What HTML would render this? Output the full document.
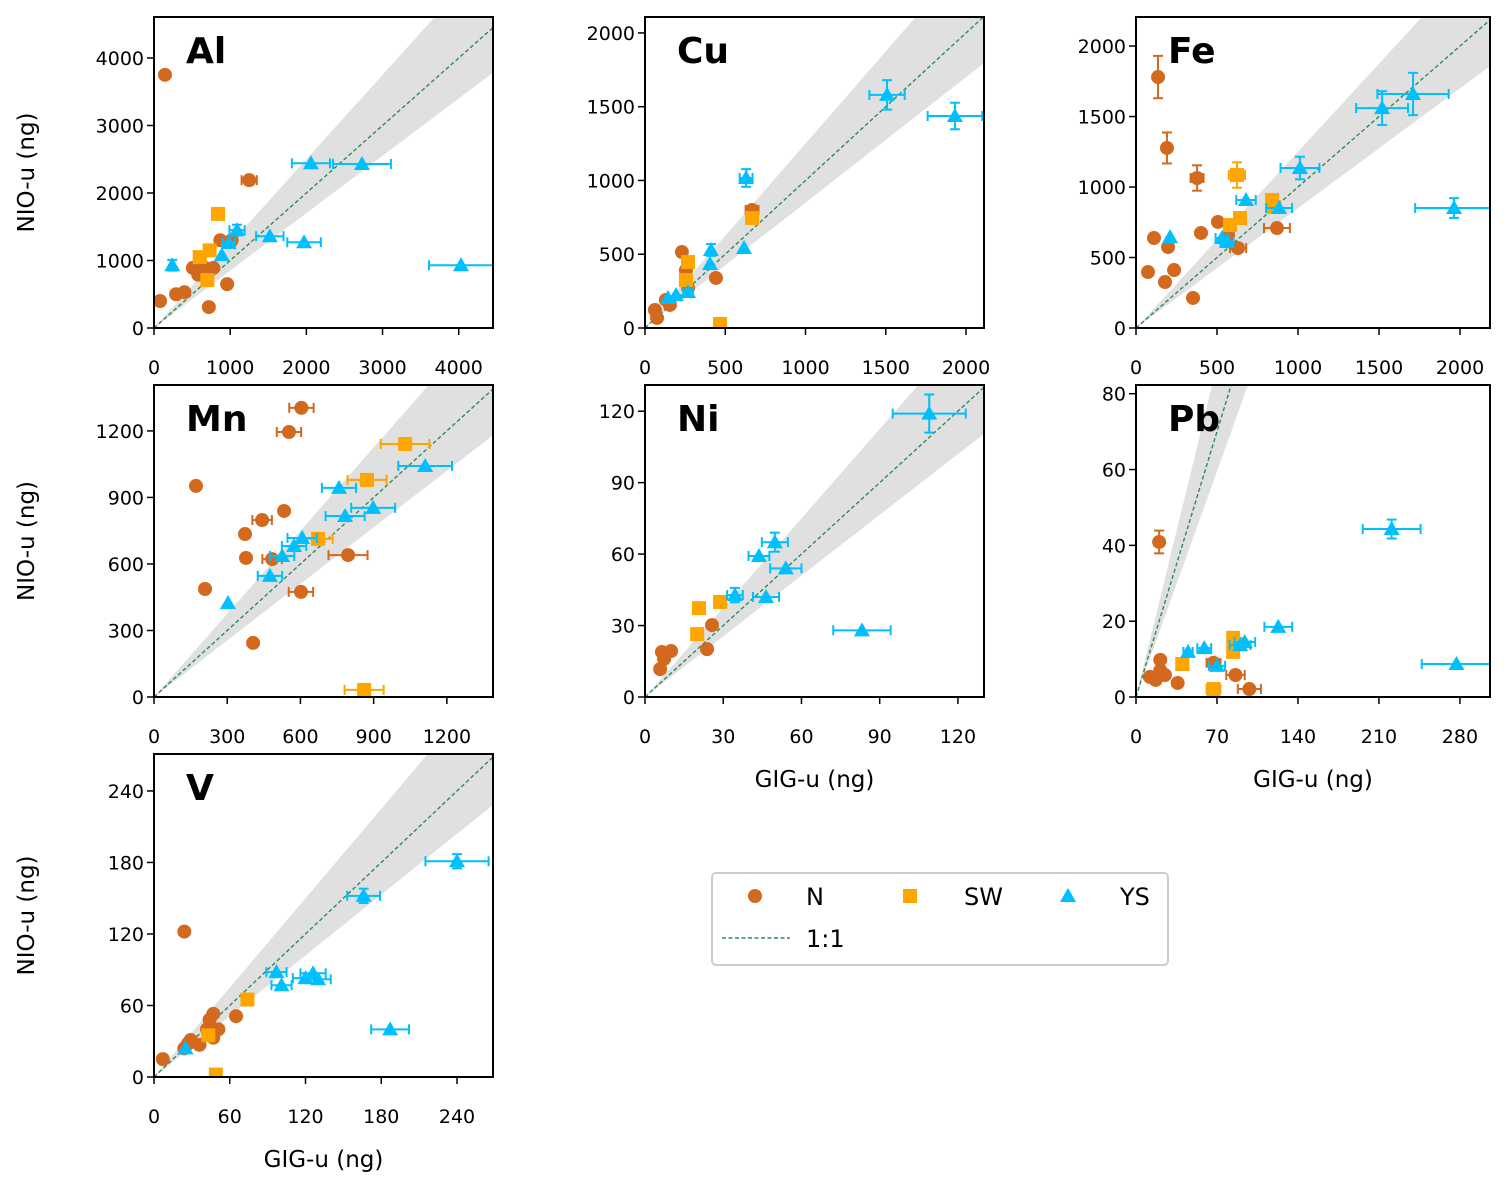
<!DOCTYPE html>
<html><head><meta charset="utf-8"><style>
body{margin:0;background:#fff}
svg text{font-family:"DejaVu Sans","Liberation Sans",sans-serif}
</style></head><body>
<svg id="c" width="1508" height="1190" xmlns="http://www.w3.org/2000/svg"></svg>
<script>
// data: [x, y, xerr, yerr]
const alN=[[144,3750,0,0],[79,400,0,0],[290,500,0,0],[400,530,0,0],[510,890,0,0],[580,790,0,0],[720,310,0,0],[780,890,0,0],[870,1300,0,0],[960,650,0,0],[1250,2190,100,0],[1020,1300,0,0],[670,890,0,0]];
const alSW=[[840,1690,0,0],[600,1050,0,0],[700,710,0,0],[730,1150,0,0]];
const alYS=[[240,930,0,80],[1090,1450,100,80],[980,1260,80,0],[890,1080,0,0],[1520,1360,180,0],[1970,1270,220,0],[2060,2440,250,0],[2730,2430,380,0],[4030,930,420,0]];
const cuN=[[62,122,0,0],[75,68,0,0],[130,190,0,0],[155,156,0,0],[230,515,0,0],[255,393,0,0],[268,271,0,0],[442,339,0,0],[667,800,40,0],[665,786,0,0]];
const cuSW=[[467,27,0,0],[268,447,0,0],[667,746,0,0],[255,325,0,0]];
const cuYS=[[143,203,0,0],[193,224,0,0],[268,244,30,0],[405,434,0,0],[411,529,0,40],[617,542,0,0],[630,1017,40,60],[1508,1580,110,100],[1931,1437,170,90]];
const feN=[[136,1780,0,150],[191,1277,0,110],[377,1064,40,90],[111,638,0,0],[74,397,0,0],[179,326,0,0],[198,574,0,0],[235,411,0,0],[352,213,0,0],[401,674,0,0],[506,752,0,0],[630,567,50,0],[870,709,80,0],[568,660,0,0]];
const feSW=[[623,1085,50,90],[642,780,0,0],[580,730,0,0],[840,908,0,0],[852,858,0,0]];
const feYS=[[210,645,0,0],[531,638,40,0],[562,610,40,0],[679,908,60,0],[883,851,80,0],[1012,1135,120,80],[1519,1560,160,120],[1710,1660,220,150],[1963,851,240,70]];
const mnN=[[172,952,0,0],[604,1304,50,0],[553,1195,50,0],[533,839,0,0],[443,798,40,0],[373,735,0,0],[377,627,0,0],[209,487,0,0],[484,622,40,0],[602,474,50,0],[795,640,80,0],[406,244,0,0]];
const mnSW=[[1029,1141,100,0],[873,979,80,0],[672,713,60,0],[861,32,80,0]];
const mnYS=[[303,424,0,0],[475,546,50,0],[525,636,50,0],[574,681,50,0],[607,717,60,0],[758,943,70,0],[783,816,80,0],[898,853,90,0],[1111,1042,110,0]];
const niN=[[5.8,11.7,0,0],[6.5,18.9,0,0],[7.3,16,0,0],[10,19.3,0,0],[23.8,20.1,0,0],[25.7,30.2,0,0]];
const niSW=[[20,26.4,0,0],[20.7,37.3,0,0],[28.8,39.9,2,0]];
const niYS=[[34.5,42.8,3,3],[46.4,42,5,0],[43.7,59.2,4,0],[49.8,65,5,4],[54,54,6,0],[83.2,28,11,0],[109,119,14,8]];
const pbN=[[20,40.9,0,3],[12,5.3,0,0],[17,4.5,0,0],[21,9.8,0,0],[25,5.8,0,0],[36,3.7,0,0],[67,9,6,0],[86,5.8,8,0],[98,2.1,10,0],[21,7,0,0]];
const pbSW=[[40,8.7,0,0],[67,2.1,6,0],[84,15.6,0,0],[84,11.9,0,0],[87,14,0,0]];
const pbYS=[[45,11.9,4,0],[59,12.9,6,0],[70,8.2,7,0],[90,13.7,9,0],[94,14.5,9,0],[123,18.5,12,0],[221,44.3,25,2.5],[277,8.7,30,0]];
const vN=[[7,15,0,0],[24,122,0,0],[24,24,0,0],[27,28,0,0],[29,31,0,0],[36,27,0,0],[44,48,0,0],[47,53,0,0],[47,33,0,0],[51,40,0,0],[65,51,0,0],[42,40,0,0]];
const vSW=[[49,2,0,0],[43,35,0,0],[74,65,0,0]];
const vYS=[[25,24,0,0],[97,88,8,0],[101,77,8,0],[120,83,10,0],[126,87,10,0],[130,82,10,0],[166,152,13,6],[187,40,15,0],[240,181,25,6]];
const alTicks=[0,1000,2000,3000,4000], cuTicks=[0,500,1000,1500,2000], mnTicks=[0,300,600,900,1200], niTicks=[0,30,60,90,120], pbXTicks=[0,70,140,210,280], pbYTicks=[0,20,40,60,80], vTicks=[0,60,120,180,240];
const panels=[
 {n:'Al',b:[154,17,493,328],xm:4450,ym:4607,xt:alTicks,yt:alTicks,d:[alN,alSW,alYS],yl:true},
 {n:'Cu',b:[645,17,984,328],xm:2112,ym:2108,xt:cuTicks,yt:cuTicks,d:[cuN,cuSW,cuYS]},
 {n:'Fe',b:[1136,17,1490,328],xm:2185,ym:2206,xt:cuTicks,yt:cuTicks,d:[feN,feSW,feYS]},
 {n:'Mn',b:[154,385,493,697],xm:1389,ym:1407,xt:mnTicks,yt:mnTicks,d:[mnN,mnSW,mnYS],yl:true},
 {n:'Ni',b:[645,385,984,697],xm:130,ym:131,xt:niTicks,yt:niTicks,d:[niN,niSW,niYS],xl:true},
 {n:'Pb',b:[1136,385,1490,697],xm:306,ym:82.3,xt:pbXTicks,yt:pbYTicks,d:[pbN,pbSW,pbYS],xl:true},
 {n:'V',b:[154,754,493,1077],xm:268.5,ym:271,xt:vTicks,yt:vTicks,d:[vN,vSW,vYS],xl:true,yl:true}];
const cols=['#d2691e','#ffa500','#00bfff'];
const svg=document.getElementById('c');const NS='http://www.w3.org/2000/svg';
function mk(t,a,p,txt){const e=document.createElementNS(NS,t);for(const k in a)e.setAttribute(k,a[k]);if(txt!==undefined)e.textContent=txt;(p||svg).appendChild(e);return e;}
function marker(g,k,x,y,c){let e;
 if(k==0)e=mk('circle',{cx:x,cy:y,r:7,fill:c},g);
 else if(k==1)e=mk('rect',{x:x-7,y:y-7,width:14,height:14,fill:c},g);
 else e=mk('polygon',{points:`${x},${y-8} ${x+8},${y+6} ${x-8},${y+6}`,fill:c},g);
 return e;}
panels.forEach(p=>{
 const [x0,y0,x1,y1]=p.b;
 const g=mk('g',{});
 
 
 const sx=v=>x0+(x1-x0)*v/p.xm, sy=v=>y1-(y1-y0)*v/p.ym;
 const cp='cp'+p.n;const cl=mk('clipPath',{id:cp},g);mk('rect',{x:x0,y:y0,width:x1-x0,height:y1-y0},cl);
 const pg=mk('g',{'clip-path':`url(#${cp})`},g);
 const M=Math.max(p.xm,p.ym)*2;
 const band=mk('polygon',{points:`${sx(0)},${sy(0)} ${sx(M)},${sy(M*1.25)} ${sx(M)},${sy(M*0.85)}`,fill:'#e0e0e0'},pg);
 
 
 const ln=mk('line',{x1:sx(0),y1:sy(0),x2:sx(M),y2:sy(M),stroke:'#2e8b57','stroke-width':1.4,'stroke-dasharray':'4,2.5'},pg);
 
 
 p.d.forEach((s,k)=>{s.forEach(q=>{
  const X=sx(q[0]),Y=sy(q[1]),c=cols[k];
  const eg=mk('g',{stroke:c,'stroke-width':2},pg);
  if(q[2]){const a=sx(q[0]-q[2]),b=sx(q[0]+q[2]);mk('line',{x1:a,y1:Y,x2:b,y2:Y},eg);mk('line',{x1:a,y1:Y-5,x2:a,y2:Y+5},eg);mk('line',{x1:b,y1:Y-5,x2:b,y2:Y+5},eg);}
  if(q[3]){const a=sy(q[1]-q[3]),b=sy(q[1]+q[3]);mk('line',{x1:X,y1:a,x2:X,y2:b},eg);mk('line',{x1:X-5,y1:a,x2:X+5,y2:a},eg);mk('line',{x1:X-5,y1:b,x2:X+5,y2:b},eg);}
  const m=marker(pg,k,X,Y,c);
  
  
 });});
 mk('rect',{x:x0,y:y0,width:x1-x0,height:y1-y0,fill:'none',stroke:'#000','stroke-width':2},g);
 p.xt.forEach(t=>{const X=sx(t);mk('line',{x1:X,y1:y1,x2:X,y2:y1+7,stroke:'#000','stroke-width':1.5},g);mk('text',{x:X,y:y1+46,'font-size':19,'text-anchor':'middle'},g,t);});
 p.yt.forEach(t=>{const Y=sy(t);mk('line',{x1:x0-7,y1:Y,x2:x0,y2:Y,stroke:'#000','stroke-width':1.5},g);mk('text',{x:x0-10,y:Y+7,'font-size':19,'text-anchor':'end'},g,t);});
 const tt=mk('text',{x:x0+32,y:y0+46,'font-size':36,'font-weight':'bold'},g,p.n);
 
 
 if(p.xl){const t=mk('text',{x:(x0+x1)/2,y:y1+90,'font-size':23,'text-anchor':'middle'},g,'GIG-u  (ng)');}
 if(p.yl){const cy=(y0+y1)/2,cx=x0-120;const t=mk('text',{x:cx,y:cy,'font-size':23,'text-anchor':'middle',transform:`rotate(-90 ${cx} ${cy})`},g,'NIO-u  (ng)');}
});
const lg=mk('g',{});


mk('rect',{x:712,y:873,width:456,height:92,rx:4,fill:'#fff',stroke:'#ccc','stroke-width':2},lg);
[['N',755,806],['SW',910,964],['YS',1068,1120]].forEach((e,k)=>{marker(lg,k,e[1],896,cols[k]);const t=mk('text',{x:e[2],y:905,'font-size':24},lg,e[0]);});
mk('line',{x1:722,y1:938,x2:790,y2:938,stroke:'#2e8b57','stroke-width':1.4,'stroke-dasharray':'4,2.5'},lg);
mk('text',{x:806,y:947,'font-size':24},lg,'1:1');
</script>
</body></html>
